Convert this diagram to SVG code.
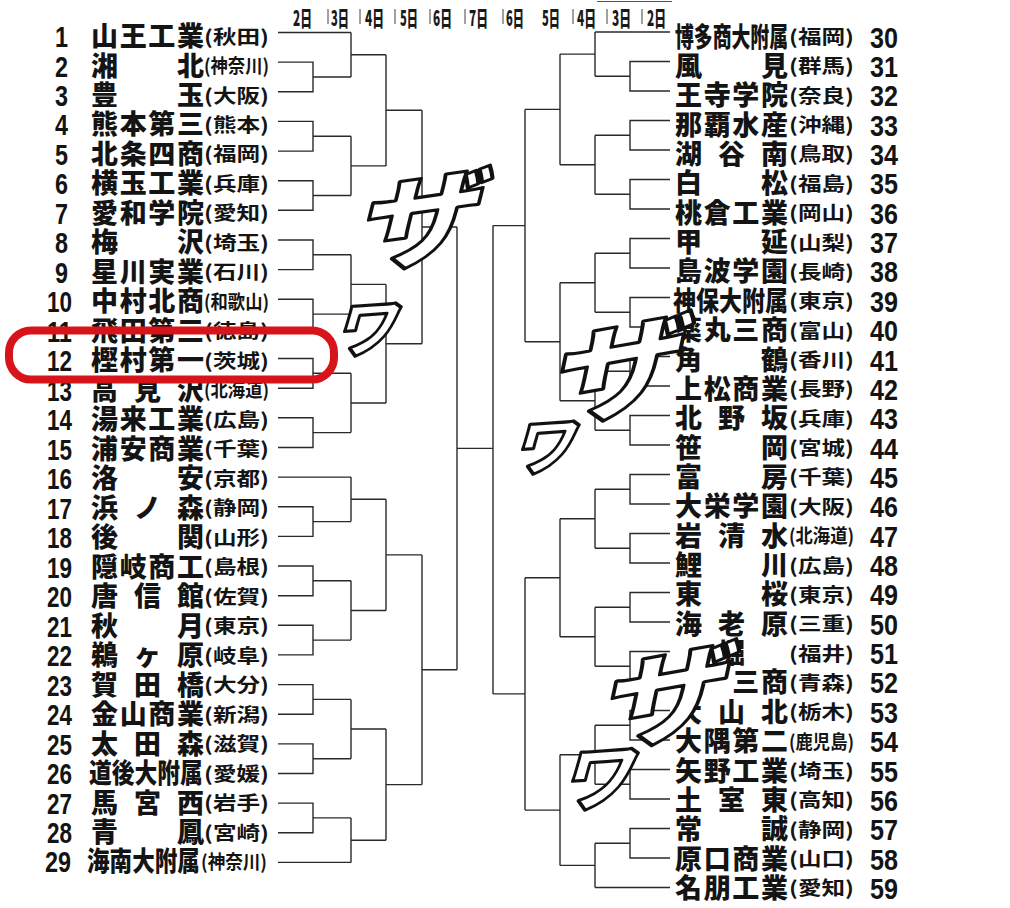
<svg xmlns="http://www.w3.org/2000/svg" width="1010" height="908" viewBox="0 0 1010 908">
<style>
.num{font-family:"Liberation Sans",Arial,sans-serif;font-weight:bold;font-size:30px;fill:#141414}
.nm{font-family:"Noto Sans CJK JP","Noto Sans CJK SC",sans-serif;font-weight:900;font-size:27px;fill:#141414}
.pf{font-family:"Noto Sans CJK JP","Noto Sans CJK SC",sans-serif;font-weight:bold;font-size:19px;fill:#141414}
.hd{font-family:"Noto Sans CJK JP","Noto Sans CJK SC",sans-serif;font-weight:900;font-size:21px;fill:#1a1a1a}
.sep{stroke:#555;stroke-width:1.1}
.cn{stroke:#2a2a2a;stroke-width:1.4;fill:none}
.fx{font-family:"Noto Sans CJK JP","Noto Sans CJK SC",sans-serif;font-weight:900;fill:#fff;stroke:#111;stroke-width:3.2;stroke-linejoin:round;text-anchor:middle}
.mark{fill:none;stroke:#d7141a;stroke-width:8}
</style>
<rect width="1010" height="908" fill="#fff"/>
<g id="header">
<text class="hd" x="293" y="25.5" textLength="19" lengthAdjust="spacingAndGlyphs">2日</text>
<text class="hd" x="331" y="25.5" textLength="18" lengthAdjust="spacingAndGlyphs">3日</text>
<text class="hd" x="365" y="25.5" textLength="19" lengthAdjust="spacingAndGlyphs">4日</text>
<text class="hd" x="400" y="25.5" textLength="18" lengthAdjust="spacingAndGlyphs">5日</text>
<text class="hd" x="433" y="25.5" textLength="19" lengthAdjust="spacingAndGlyphs">6日</text>
<text class="hd" x="469" y="25.5" textLength="19" lengthAdjust="spacingAndGlyphs">7日</text>
<text class="hd" x="506" y="25.5" textLength="18" lengthAdjust="spacingAndGlyphs">6日</text>
<text class="hd" x="542" y="25.5" textLength="18" lengthAdjust="spacingAndGlyphs">5日</text>
<text class="hd" x="577" y="25.5" textLength="19" lengthAdjust="spacingAndGlyphs">4日</text>
<text class="hd" x="612" y="25.5" textLength="19" lengthAdjust="spacingAndGlyphs">3日</text>
<text class="hd" x="647" y="25.5" textLength="19" lengthAdjust="spacingAndGlyphs">2日</text>
<path class="sep" d="M328 9V24M360 9V24M395 9V24M430 9V24M465 9V24M503 9V24M573 9V24M607 9V24M642 9V24"/>
<path class="sep" d="M597 1.5H672"/>
</g>
<g id="connectors" class="cn">
<path d="M278 32.5H351M278 62.1H313V91.8H278M313 77H351M278 121.4H313V151.1H278M313 136.2H351M278 180.7H313V210.3H278M313 195.5H351"/>
<path d="M278 240H313V269.6H278M313 254.8H351M278 299.3H313V328.9H278M313 314.1H351M278 358.5H313V388.2H278M313 373.3H351M278 417.8H313V447.5H278M313 432.6H351"/>
<path d="M278 477.1H351M278 506.7H313V536.4H278M313 521.6H351M278 566H313V595.7H278M313 580.8H351M278 625.3H313V654.9H278M313 640.1H351"/>
<path d="M278 684.6H313V714.2H278M313 699.4H351M278 743.9H313V773.5H278M313 758.7H351M278 803.1H313V832.8H278M313 817.9H351M278 862.4H351"/>
<path d="M351 32.5V77M351 54.7H386M351 136.2V195.5M351 165.9H386M351 254.8V314.1M351 284.4H386M351 373.3V432.6M351 403H386"/>
<path d="M351 477.1V521.6M351 499.3H386M351 580.8V640.1M351 610.5H386M351 699.4V758.7M351 729H386M351 817.9V862.4M351 840.2H386"/>
<path d="M386 54.7V165.9M386 110.3H422M386 284.4V403M386 343.7H422M386 499.3V610.5M386 554.9H422M386 729V840.2M386 784.6H422"/>
<path d="M422 110.3V343.7M422 227H457M422 554.9V784.6M422 669.7H457M457 227V669.7M457 448.4H493"/>
<path d="M493 225.6V693.9"/>
<path d="M670 32H595M670 61.5H630V91H670M630 76.25H595M670 120.5H630V150H670M630 135.25H595M670 179.5H630V209H670M630 194.25H595"/>
<path d="M670 238.5H630V268H670M630 253.25H595M670 297.5H630V327H670M630 312.25H595M670 356.5H630V386H670M630 371.25H595M670 415.5H630V445H670M630 430.25H595"/>
<path d="M670 474.5H630V504H670M630 489.25H595M670 533.5H630V563H670M630 548.25H595M670 592.5H630V622H670M630 607.25H595M670 651.5H630V681H670M630 666.25H595"/>
<path d="M670 710.5H630V740H670M630 725.25H595M670 769.5H630V799H670M630 784.25H595M670 828.5H630V858H670M630 843.25H595M670 887.5H595"/>
<path d="M595 32V76.25M595 54.1H560M595 135.25V194.25M595 164.75H560M595 253.25V312.25M595 282.75H560M595 371.25V430.25M595 400.75H560"/>
<path d="M595 489.25V548.25M595 518.75H560M595 607.25V666.25M595 636.75H560M595 725.25V784.25M595 754.75H560M595 843.25V887.5M595 865.4H560"/>
<path d="M560 54.1V164.75M560 109.4H525M560 282.75V400.75M560 341.75H525M560 518.75V636.75M560 577.75H525M560 754.75V865.4M560 810.1H525"/>
<path d="M525 109.4V341.75M525 225.6H493M525 577.75V810.1M525 693.9H493"/>
</g>
<g id="teams-left">
<g id="team-1" transform="translate(0 36)"><text class="num" x="55" y="11" textLength="13" lengthAdjust="spacingAndGlyphs">1</text><text class="nm" x="91 119.7 148.3 177" y="10">山王工業</text><text class="pf" x="204" y="7.5" textLength="65" lengthAdjust="spacingAndGlyphs">(秋田)</text></g>
<g id="team-2" transform="translate(0 65.5)"><text class="num" x="55" y="11" textLength="13" lengthAdjust="spacingAndGlyphs">2</text><text class="nm" x="91 177" y="10">湘北</text><text class="pf" x="204" y="7.5" textLength="65" lengthAdjust="spacingAndGlyphs">(神奈川)</text></g>
<g id="team-3" transform="translate(0 95)"><text class="num" x="55" y="11" textLength="13" lengthAdjust="spacingAndGlyphs">3</text><text class="nm" x="91 177" y="10">豊玉</text><text class="pf" x="204" y="7.5" textLength="65" lengthAdjust="spacingAndGlyphs">(大阪)</text></g>
<g id="team-4" transform="translate(0 124.4)"><text class="num" x="55" y="11" textLength="13" lengthAdjust="spacingAndGlyphs">4</text><text class="nm" x="91 119.7 148.3 177" y="10">熊本第三</text><text class="pf" x="204" y="7.5" textLength="65" lengthAdjust="spacingAndGlyphs">(熊本)</text></g>
<g id="team-5" transform="translate(0 153.9)"><text class="num" x="55" y="11" textLength="13" lengthAdjust="spacingAndGlyphs">5</text><text class="nm" x="91 119.7 148.3 177" y="10">北条四商</text><text class="pf" x="204" y="7.5" textLength="65" lengthAdjust="spacingAndGlyphs">(福岡)</text></g>
<g id="team-6" transform="translate(0 183.4)"><text class="num" x="55" y="11" textLength="13" lengthAdjust="spacingAndGlyphs">6</text><text class="nm" x="91 119.7 148.3 177" y="10">横玉工業</text><text class="pf" x="204" y="7.5" textLength="65" lengthAdjust="spacingAndGlyphs">(兵庫)</text></g>
<g id="team-7" transform="translate(0 212.9)"><text class="num" x="55" y="11" textLength="13" lengthAdjust="spacingAndGlyphs">7</text><text class="nm" x="91 119.7 148.3 177" y="10">愛和学院</text><text class="pf" x="204" y="7.5" textLength="65" lengthAdjust="spacingAndGlyphs">(愛知)</text></g>
<g id="team-8" transform="translate(0 242.4)"><text class="num" x="55" y="11" textLength="13" lengthAdjust="spacingAndGlyphs">8</text><text class="nm" x="91 177" y="10">梅沢</text><text class="pf" x="204" y="7.5" textLength="65" lengthAdjust="spacingAndGlyphs">(埼玉)</text></g>
<g id="team-9" transform="translate(0 271.8)"><text class="num" x="55" y="11" textLength="13" lengthAdjust="spacingAndGlyphs">9</text><text class="nm" x="91 119.7 148.3 177" y="10">星川実業</text><text class="pf" x="204" y="7.5" textLength="65" lengthAdjust="spacingAndGlyphs">(石川)</text></g>
<g id="team-10" transform="translate(0 301.3)"><text class="num" x="47" y="11" textLength="25" lengthAdjust="spacingAndGlyphs">10</text><text class="nm" x="91 119.7 148.3 177" y="10">中村北商</text><text class="pf" x="204" y="7.5" textLength="65" lengthAdjust="spacingAndGlyphs">(和歌山)</text></g>
<g id="team-11" transform="translate(0 330.8)"><text class="num" x="47" y="11" textLength="25" lengthAdjust="spacingAndGlyphs">11</text><text class="nm" x="91 119.7 148.3 177" y="10">飛田第三</text><text class="pf" x="204" y="7.5" textLength="65" lengthAdjust="spacingAndGlyphs">(徳島)</text></g>
<g id="team-12" transform="translate(0 360.3)"><text class="num" x="47" y="11" textLength="25" lengthAdjust="spacingAndGlyphs">12</text><text class="nm" x="91 119.7 148.3 177" y="10">樫村第一</text><text class="pf" x="204" y="7.5" textLength="65" lengthAdjust="spacingAndGlyphs">(茨城)</text></g>
<g id="team-13" transform="translate(0 389.8)"><text class="num" x="47" y="11" textLength="25" lengthAdjust="spacingAndGlyphs">13</text><text class="nm" x="91 134 177" y="10">高見沢</text><text class="pf" x="204" y="7.5" textLength="65" lengthAdjust="spacingAndGlyphs">(北海道)</text></g>
<g id="team-14" transform="translate(0 419.2)"><text class="num" x="47" y="11" textLength="25" lengthAdjust="spacingAndGlyphs">14</text><text class="nm" x="91 119.7 148.3 177" y="10">湯来工業</text><text class="pf" x="204" y="7.5" textLength="65" lengthAdjust="spacingAndGlyphs">(広島)</text></g>
<g id="team-15" transform="translate(0 448.7)"><text class="num" x="47" y="11" textLength="25" lengthAdjust="spacingAndGlyphs">15</text><text class="nm" x="91 119.7 148.3 177" y="10">浦安商業</text><text class="pf" x="204" y="7.5" textLength="65" lengthAdjust="spacingAndGlyphs">(千葉)</text></g>
<g id="team-16" transform="translate(0 478.2)"><text class="num" x="47" y="11" textLength="25" lengthAdjust="spacingAndGlyphs">16</text><text class="nm" x="91 177" y="10">洛安</text><text class="pf" x="204" y="7.5" textLength="65" lengthAdjust="spacingAndGlyphs">(京都)</text></g>
<g id="team-17" transform="translate(0 507.7)"><text class="num" x="47" y="11" textLength="25" lengthAdjust="spacingAndGlyphs">17</text><text class="nm" x="91 134 177" y="10">浜ノ森</text><text class="pf" x="204" y="7.5" textLength="65" lengthAdjust="spacingAndGlyphs">(静岡)</text></g>
<g id="team-18" transform="translate(0 537.2)"><text class="num" x="47" y="11" textLength="25" lengthAdjust="spacingAndGlyphs">18</text><text class="nm" x="91 177" y="10">後関</text><text class="pf" x="204" y="7.5" textLength="65" lengthAdjust="spacingAndGlyphs">(山形)</text></g>
<g id="team-19" transform="translate(0 566.6)"><text class="num" x="47" y="11" textLength="25" lengthAdjust="spacingAndGlyphs">19</text><text class="nm" x="91 119.7 148.3 177" y="10">隠岐商工</text><text class="pf" x="204" y="7.5" textLength="65" lengthAdjust="spacingAndGlyphs">(島根)</text></g>
<g id="team-20" transform="translate(0 596.1)"><text class="num" x="47" y="11" textLength="25" lengthAdjust="spacingAndGlyphs">20</text><text class="nm" x="91 134 177" y="10">唐信館</text><text class="pf" x="204" y="7.5" textLength="65" lengthAdjust="spacingAndGlyphs">(佐賀)</text></g>
<g id="team-21" transform="translate(0 625.6)"><text class="num" x="47" y="11" textLength="25" lengthAdjust="spacingAndGlyphs">21</text><text class="nm" x="91 177" y="10">秋月</text><text class="pf" x="204" y="7.5" textLength="65" lengthAdjust="spacingAndGlyphs">(東京)</text></g>
<g id="team-22" transform="translate(0 655.1)"><text class="num" x="47" y="11" textLength="25" lengthAdjust="spacingAndGlyphs">22</text><text class="nm" x="91 134 177" y="10">鵜ヶ原</text><text class="pf" x="204" y="7.5" textLength="65" lengthAdjust="spacingAndGlyphs">(岐阜)</text></g>
<g id="team-23" transform="translate(0 684.6)"><text class="num" x="47" y="11" textLength="25" lengthAdjust="spacingAndGlyphs">23</text><text class="nm" x="91 134 177" y="10">賀田橋</text><text class="pf" x="204" y="7.5" textLength="65" lengthAdjust="spacingAndGlyphs">(大分)</text></g>
<g id="team-24" transform="translate(0 714)"><text class="num" x="47" y="11" textLength="25" lengthAdjust="spacingAndGlyphs">24</text><text class="nm" x="91 119.7 148.3 177" y="10">金山商業</text><text class="pf" x="204" y="7.5" textLength="65" lengthAdjust="spacingAndGlyphs">(新潟)</text></g>
<g id="team-25" transform="translate(0 743.5)"><text class="num" x="47" y="11" textLength="25" lengthAdjust="spacingAndGlyphs">25</text><text class="nm" x="91 134 177" y="10">太田森</text><text class="pf" x="204" y="7.5" textLength="65" lengthAdjust="spacingAndGlyphs">(滋賀)</text></g>
<g id="team-26" transform="translate(0 773)"><text class="num" x="47" y="11" textLength="25" lengthAdjust="spacingAndGlyphs">26</text><text class="nm" transform="translate(89 0) scale(0.844 1)" y="10">道後大附属</text><text class="pf" x="204" y="7.5" textLength="65" lengthAdjust="spacingAndGlyphs">(愛媛)</text></g>
<g id="team-27" transform="translate(0 802.5)"><text class="num" x="47" y="11" textLength="25" lengthAdjust="spacingAndGlyphs">27</text><text class="nm" x="91 134 177" y="10">馬宮西</text><text class="pf" x="204" y="7.5" textLength="65" lengthAdjust="spacingAndGlyphs">(岩手)</text></g>
<g id="team-28" transform="translate(0 832)"><text class="num" x="47" y="11" textLength="25" lengthAdjust="spacingAndGlyphs">28</text><text class="nm" x="91 177" y="10">青鳳</text><text class="pf" x="204" y="7.5" textLength="65" lengthAdjust="spacingAndGlyphs">(宮崎)</text></g>
<g id="team-29" transform="translate(0 861.4)"><text class="num" x="45" y="11" textLength="26" lengthAdjust="spacingAndGlyphs">29</text><text class="nm" transform="translate(87 0) scale(0.837 1)" y="10">海南大附属</text><text class="pf" x="201" y="7.5" textLength="66" lengthAdjust="spacingAndGlyphs">(神奈川)</text></g>
</g>
<g id="teams-right">
<g id="team-30" transform="translate(0 36.5)"><text class="nm" transform="translate(675 0) scale(0.698 1)" y="10">博多商大附属</text><text class="pf" x="789" y="7.5" textLength="65" lengthAdjust="spacingAndGlyphs">(福岡)</text><text class="num" x="870" y="11" textLength="28" lengthAdjust="spacingAndGlyphs">30</text></g>
<g id="team-31" transform="translate(0 65.9)"><text class="nm" x="675 761" y="10">風見</text><text class="pf" x="789" y="7.5" textLength="65" lengthAdjust="spacingAndGlyphs">(群馬)</text><text class="num" x="870" y="11" textLength="28" lengthAdjust="spacingAndGlyphs">31</text></g>
<g id="team-32" transform="translate(0 95.2)"><text class="nm" x="675 703.7 732.3 761" y="10">王寺学院</text><text class="pf" x="789" y="7.5" textLength="65" lengthAdjust="spacingAndGlyphs">(奈良)</text><text class="num" x="870" y="11" textLength="28" lengthAdjust="spacingAndGlyphs">32</text></g>
<g id="team-33" transform="translate(0 124.6)"><text class="nm" x="675 703.7 732.3 761" y="10">那覇水産</text><text class="pf" x="789" y="7.5" textLength="65" lengthAdjust="spacingAndGlyphs">(沖縄)</text><text class="num" x="870" y="11" textLength="28" lengthAdjust="spacingAndGlyphs">33</text></g>
<g id="team-34" transform="translate(0 153.9)"><text class="nm" x="675 718 761" y="10">湖谷南</text><text class="pf" x="789" y="7.5" textLength="65" lengthAdjust="spacingAndGlyphs">(鳥取)</text><text class="num" x="870" y="11" textLength="28" lengthAdjust="spacingAndGlyphs">34</text></g>
<g id="team-35" transform="translate(0 183.3)"><text class="nm" x="675 761" y="10">白松</text><text class="pf" x="789" y="7.5" textLength="65" lengthAdjust="spacingAndGlyphs">(福島)</text><text class="num" x="870" y="11" textLength="28" lengthAdjust="spacingAndGlyphs">35</text></g>
<g id="team-36" transform="translate(0 212.7)"><text class="nm" x="675 703.7 732.3 761" y="10">桃倉工業</text><text class="pf" x="789" y="7.5" textLength="65" lengthAdjust="spacingAndGlyphs">(岡山)</text><text class="num" x="870" y="11" textLength="28" lengthAdjust="spacingAndGlyphs">36</text></g>
<g id="team-37" transform="translate(0 242)"><text class="nm" x="675 761" y="10">甲延</text><text class="pf" x="789" y="7.5" textLength="65" lengthAdjust="spacingAndGlyphs">(山梨)</text><text class="num" x="870" y="11" textLength="28" lengthAdjust="spacingAndGlyphs">37</text></g>
<g id="team-38" transform="translate(0 271.4)"><text class="nm" x="675 703.7 732.3 761" y="10">島波学園</text><text class="pf" x="789" y="7.5" textLength="65" lengthAdjust="spacingAndGlyphs">(長崎)</text><text class="num" x="870" y="11" textLength="28" lengthAdjust="spacingAndGlyphs">38</text></g>
<g id="team-39" transform="translate(0 300.7)"><text class="nm" transform="translate(673 0) scale(0.852 1)" y="10">神保大附属</text><text class="pf" x="789" y="7.5" textLength="65" lengthAdjust="spacingAndGlyphs">(東京)</text><text class="num" x="870" y="11" textLength="28" lengthAdjust="spacingAndGlyphs">39</text></g>
<g id="team-40" transform="translate(0 330.1)"><text class="nm" x="675 703.7 732.3 761" y="10">薬丸三商</text><text class="pf" x="789" y="7.5" textLength="65" lengthAdjust="spacingAndGlyphs">(富山)</text><text class="num" x="870" y="11" textLength="28" lengthAdjust="spacingAndGlyphs">40</text></g>
<g id="team-41" transform="translate(0 359.5)"><text class="nm" x="675 761" y="10">角鶴</text><text class="pf" x="789" y="7.5" textLength="65" lengthAdjust="spacingAndGlyphs">(香川)</text><text class="num" x="870" y="11" textLength="28" lengthAdjust="spacingAndGlyphs">41</text></g>
<g id="team-42" transform="translate(0 388.8)"><text class="nm" x="675 703.7 732.3 761" y="10">上松商業</text><text class="pf" x="789" y="7.5" textLength="65" lengthAdjust="spacingAndGlyphs">(長野)</text><text class="num" x="870" y="11" textLength="28" lengthAdjust="spacingAndGlyphs">42</text></g>
<g id="team-43" transform="translate(0 418.2)"><text class="nm" x="675 718 761" y="10">北野坂</text><text class="pf" x="789" y="7.5" textLength="65" lengthAdjust="spacingAndGlyphs">(兵庫)</text><text class="num" x="870" y="11" textLength="28" lengthAdjust="spacingAndGlyphs">43</text></g>
<g id="team-44" transform="translate(0 447.5)"><text class="nm" x="675 761" y="10">笹岡</text><text class="pf" x="789" y="7.5" textLength="65" lengthAdjust="spacingAndGlyphs">(宮城)</text><text class="num" x="870" y="11" textLength="28" lengthAdjust="spacingAndGlyphs">44</text></g>
<g id="team-45" transform="translate(0 476.9)"><text class="nm" x="675 761" y="10">富房</text><text class="pf" x="789" y="7.5" textLength="65" lengthAdjust="spacingAndGlyphs">(千葉)</text><text class="num" x="870" y="11" textLength="28" lengthAdjust="spacingAndGlyphs">45</text></g>
<g id="team-46" transform="translate(0 506.3)"><text class="nm" x="675 703.7 732.3 761" y="10">大栄学園</text><text class="pf" x="789" y="7.5" textLength="65" lengthAdjust="spacingAndGlyphs">(大阪)</text><text class="num" x="870" y="11" textLength="28" lengthAdjust="spacingAndGlyphs">46</text></g>
<g id="team-47" transform="translate(0 535.6)"><text class="nm" x="675 718 761" y="10">岩清水</text><text class="pf" x="789" y="7.5" textLength="65" lengthAdjust="spacingAndGlyphs">(北海道)</text><text class="num" x="870" y="11" textLength="28" lengthAdjust="spacingAndGlyphs">47</text></g>
<g id="team-48" transform="translate(0 565)"><text class="nm" x="675 761" y="10">鯉川</text><text class="pf" x="789" y="7.5" textLength="65" lengthAdjust="spacingAndGlyphs">(広島)</text><text class="num" x="870" y="11" textLength="28" lengthAdjust="spacingAndGlyphs">48</text></g>
<g id="team-49" transform="translate(0 594.3)"><text class="nm" x="675 761" y="10">東桜</text><text class="pf" x="789" y="7.5" textLength="65" lengthAdjust="spacingAndGlyphs">(東京)</text><text class="num" x="870" y="11" textLength="28" lengthAdjust="spacingAndGlyphs">49</text></g>
<g id="team-50" transform="translate(0 623.7)"><text class="nm" x="675 718 761" y="10">海老原</text><text class="pf" x="789" y="7.5" textLength="65" lengthAdjust="spacingAndGlyphs">(三重)</text><text class="num" x="870" y="11" textLength="28" lengthAdjust="spacingAndGlyphs">50</text></g>
<g id="team-51" transform="translate(0 653.1)"><text class="nm" x="718" y="10">堀</text><text class="pf" x="789" y="7.5" textLength="65" lengthAdjust="spacingAndGlyphs">(福井)</text><text class="num" x="870" y="11" textLength="28" lengthAdjust="spacingAndGlyphs">51</text></g>
<g id="team-52" transform="translate(0 682.4)"><text class="nm" x="732.3 761" y="10">三商</text><text class="pf" x="789" y="7.5" textLength="65" lengthAdjust="spacingAndGlyphs">(青森)</text><text class="num" x="870" y="11" textLength="28" lengthAdjust="spacingAndGlyphs">52</text></g>
<g id="team-53" transform="translate(0 711.8)"><text class="nm" x="675 718 761" y="10">大山北</text><text class="pf" x="789" y="7.5" textLength="65" lengthAdjust="spacingAndGlyphs">(栃木)</text><text class="num" x="870" y="11" textLength="28" lengthAdjust="spacingAndGlyphs">53</text></g>
<g id="team-54" transform="translate(0 741.1)"><text class="nm" x="675 703.7 732.3 761" y="10">大隅第二</text><text class="pf" x="789" y="7.5" textLength="65" lengthAdjust="spacingAndGlyphs">(鹿児島)</text><text class="num" x="870" y="11" textLength="28" lengthAdjust="spacingAndGlyphs">54</text></g>
<g id="team-55" transform="translate(0 770.5)"><text class="nm" x="675 703.7 732.3 761" y="10">矢野工業</text><text class="pf" x="789" y="7.5" textLength="65" lengthAdjust="spacingAndGlyphs">(埼玉)</text><text class="num" x="870" y="11" textLength="28" lengthAdjust="spacingAndGlyphs">55</text></g>
<g id="team-56" transform="translate(0 799.9)"><text class="nm" x="675 718 761" y="10">土室東</text><text class="pf" x="789" y="7.5" textLength="65" lengthAdjust="spacingAndGlyphs">(高知)</text><text class="num" x="870" y="11" textLength="28" lengthAdjust="spacingAndGlyphs">56</text></g>
<g id="team-57" transform="translate(0 829.2)"><text class="nm" x="675 761" y="10">常誠</text><text class="pf" x="789" y="7.5" textLength="65" lengthAdjust="spacingAndGlyphs">(静岡)</text><text class="num" x="870" y="11" textLength="28" lengthAdjust="spacingAndGlyphs">57</text></g>
<g id="team-58" transform="translate(0 858.6)"><text class="nm" x="675 703.7 732.3 761" y="10">原口商業</text><text class="pf" x="789" y="7.5" textLength="65" lengthAdjust="spacingAndGlyphs">(山口)</text><text class="num" x="870" y="11" textLength="28" lengthAdjust="spacingAndGlyphs">58</text></g>
<g id="team-59" transform="translate(0 887.9)"><text class="nm" x="675 703.7 732.3 761" y="10">名朋工業</text><text class="pf" x="789" y="7.5" textLength="65" lengthAdjust="spacingAndGlyphs">(愛知)</text><text class="num" x="870" y="11" textLength="28" lengthAdjust="spacingAndGlyphs">59</text></g>
</g>
<g id="highlight">
<rect class="mark" x="9" y="330.5" width="325" height="49" rx="22"/>
</g>
<g id="effects">
<text class="fx" font-size="100" transform="translate(424 221) rotate(-8) skewX(-22) scale(1.25 1)" y="36">ザ</text>
<text class="fx" font-size="62" transform="translate(370 328) rotate(-4) skewX(-20)" y="23">ワ</text>
<text class="fx" font-size="104" transform="translate(622 370) rotate(-10) skewX(-22) scale(1.3 1)" y="38">ザ</text>
<text class="fx" font-size="62" transform="translate(548 446) rotate(-4) skewX(-20)" y="23">ワ</text>
<text class="fx" font-size="100" transform="translate(670 697) rotate(-10) skewX(-22) scale(1.3 1)" y="36">ザ</text>
<text class="fx" font-size="72" transform="translate(602 777) rotate(-4) skewX(-20)" y="27">ワ</text>
</g>
</svg>
